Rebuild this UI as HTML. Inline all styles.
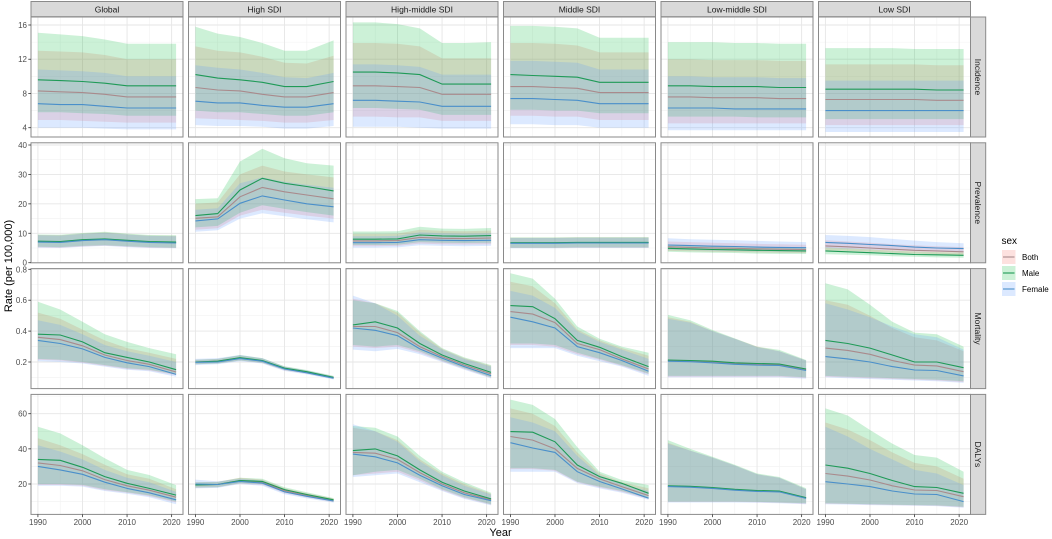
<!DOCTYPE html>
<html><head><meta charset="utf-8"><style>
html,body{margin:0;padding:0;background:#fff;}
svg{display:block;font-family:"Liberation Sans",Arial,sans-serif;}
</style></head><body>
<svg id="chart" width="1052" height="539" viewBox="0 0 1052 539"></svg>
<script>
const years = [1990,1995,2000,2005,2010,2015,2021];
const regions = ["Global","High SDI","High-middle SDI","Middle SDI","Low-middle SDI","Low SDI"];
const measures = ["Incidence","Prevalence","Mortality","DALYs"];
const xTicks = [1990,2000,2010,2020];
const yTicksInc = [4,8,12,16];
const yTicksPrev = [0,10,20,30,40];
const yTicksMort = [0.2,0.4,0.6,0.8];
const yTicksDaly = [20,40,60];
const yTickLabelsMort = ["0.2","0.4","0.6","0.8"];

const incMale = [[9.6,9.5,9.4,9.2,8.9,8.9,8.9],[10.2,9.8,9.6,9.3,8.8,8.8,9.4],[10.5,10.5,10.4,10.2,9.1,9.1,9.1],[10.2,10.1,10.0,9.9,9.3,9.3,9.3],[8.9,8.9,8.8,8.8,8.8,8.7,8.7],[8.5,8.5,8.5,8.5,8.5,8.4,8.4]];
const incMaleHi = [[15.1,14.9,14.7,14.3,13.8,13.8,13.8],[15.8,15.0,14.6,13.9,13.0,13.0,14.2],[16.3,16.3,16.1,15.6,13.9,13.9,14.0],[15.9,15.9,15.8,15.6,14.5,14.5,14.5],[14.0,14.0,14.0,13.9,13.9,13.8,13.8],[13.3,13.3,13.3,13.3,13.2,13.2,13.2]];
const incMaleLo = [[5.8,5.8,5.7,5.6,5.4,5.4,5.4],[6.0,5.8,5.8,5.6,5.4,5.4,5.8],[6.3,6.3,6.2,6.1,5.5,5.5,5.5],[6.1,6.1,6.0,6.0,5.7,5.7,5.7],[5.3,5.3,5.3,5.3,5.2,5.2,5.2],[5.0,5.0,5.0,5.0,5.0,5.0,5.0]];
const incBoth = [[8.3,8.2,8.1,7.9,7.6,7.6,7.6],[8.7,8.4,8.3,7.9,7.6,7.6,8.1],[8.9,8.9,8.8,8.7,7.9,7.9,7.9],[8.8,8.8,8.7,8.6,8.1,8.1,8.1],[7.6,7.6,7.5,7.5,7.5,7.4,7.4],[7.3,7.3,7.3,7.3,7.3,7.2,7.2]];
const incBothHi = [[13.0,12.9,12.8,12.5,12.0,12.0,12.0],[13.5,13.0,12.8,12.3,11.6,11.5,12.4],[13.9,13.9,13.8,13.5,12.1,12.1,12.1],[13.9,13.9,13.8,13.6,12.8,12.8,12.8],[12.0,12.0,11.9,11.9,11.9,11.8,11.8],[11.4,11.4,11.4,11.4,11.4,11.3,11.3]];
const incBothLo = [[4.9,4.9,4.8,4.7,4.6,4.6,4.6],[5.1,5.0,4.9,4.8,4.6,4.6,4.9],[5.3,5.3,5.2,5.2,4.8,4.8,4.8],[5.4,5.4,5.3,5.3,4.9,4.9,4.9],[4.5,4.5,4.5,4.5,4.5,4.5,4.5],[4.3,4.3,4.3,4.3,4.3,4.3,4.3]];
const incFemale = [[6.8,6.7,6.7,6.5,6.3,6.3,6.3],[7.1,6.9,6.9,6.6,6.4,6.4,6.8],[7.2,7.2,7.1,7.0,6.5,6.5,6.5],[7.4,7.4,7.3,7.2,6.8,6.8,6.8],[6.3,6.3,6.3,6.2,6.2,6.2,6.2],[6.0,6.0,6.0,6.0,6.0,6.0,6.0]];
const incFemaleHi = [[10.8,10.7,10.6,10.4,10.0,10.0,10.0],[11.3,11.0,10.8,10.4,9.9,9.8,10.4],[11.4,11.4,11.3,11.1,10.2,10.2,10.2],[11.8,11.8,11.7,11.6,10.8,10.8,10.8],[10.0,10.0,9.9,9.9,9.9,9.8,9.8],[9.5,9.5,9.5,9.5,9.5,9.5,9.5]];
const incFemaleLo = [[4.0,4.0,4.0,3.9,3.8,3.8,3.8],[4.3,4.2,4.2,4.1,3.9,3.9,4.2],[4.1,4.1,4.1,4.0,3.9,3.9,3.9],[4.4,4.4,4.3,4.3,4.0,4.0,4.0],[3.7,3.7,3.7,3.7,3.7,3.7,3.7],[3.5,3.5,3.5,3.5,3.5,3.5,3.5]];

const prevMale = [[7.3,7.2,7.8,8.1,7.6,7.2,7.0],[16.0,16.7,24.7,28.7,27.0,25.9,24.4],[8.0,8.0,8.1,9.4,9.1,9.0,9.2],[6.8,6.8,6.8,6.9,6.9,6.9,6.9],[4.9,4.7,4.5,4.4,4.2,4.1,4.0],[4.0,3.7,3.4,3.1,2.8,2.7,2.5]];
const prevMaleHi = [[9.6,9.5,10.1,10.5,9.9,9.4,9.3],[21.6,21.9,34.4,38.7,35.5,33.8,33.0],[10.6,10.6,10.7,12.2,11.6,11.5,11.8],[8.6,8.6,8.6,8.7,8.7,8.7,8.7],[6.2,6.0,5.8,5.6,5.4,5.3,5.2],[5.2,4.9,4.5,4.1,3.8,3.6,3.4]];
const prevMaleLo = [[5.4,5.3,5.7,5.9,5.6,5.3,5.1],[12.0,12.5,17.0,19.5,18.3,17.2,16.0],[6.0,6.0,6.1,7.0,6.8,6.7,6.8],[5.1,5.1,5.1,5.2,5.2,5.2,5.2],[3.7,3.5,3.4,3.3,3.1,3.0,3.0],[2.9,2.7,2.5,2.2,2.0,1.8,1.7]];
const prevBoth = [[7.1,7.0,7.6,7.9,7.4,7.0,6.8],[15.1,15.6,22.4,25.6,24.1,23.0,21.7],[7.4,7.4,7.5,8.6,8.3,8.2,8.4],[6.7,6.7,6.7,6.8,6.8,6.8,6.8],[5.4,5.2,5.0,4.9,4.7,4.6,4.5],[5.7,5.4,5.0,4.6,4.2,4.0,3.7]];
const prevBothHi = [[9.4,9.3,9.9,10.3,9.7,9.2,9.1],[20.0,20.5,30.0,33.0,31.0,30.0,29.0],[9.8,9.8,9.9,11.2,10.8,10.7,10.9],[8.5,8.5,8.5,8.6,8.6,8.6,8.6],[7.2,7.0,6.8,6.6,6.4,6.3,6.1],[7.6,7.2,6.8,6.3,5.9,5.6,5.3]];
const prevBothLo = [[5.2,5.1,5.5,5.8,5.4,5.1,5.0],[11.2,11.7,16.0,18.0,17.0,16.0,15.0],[5.6,5.6,5.7,6.5,6.3,6.2,6.3],[5.0,5.0,5.0,5.1,5.1,5.1,5.1],[4.0,3.9,3.7,3.6,3.5,3.4,3.3],[4.2,4.0,3.7,3.4,3.1,2.9,2.7]];
const prevFemale = [[7.0,6.9,7.5,7.8,7.3,6.9,6.7],[14.2,14.9,20.2,22.7,21.3,20.0,19.0],[6.8,6.8,6.9,7.8,7.6,7.5,7.6],[6.6,6.6,6.6,6.7,6.7,6.7,6.7],[6.0,5.8,5.6,5.5,5.3,5.2,5.1],[6.9,6.6,6.2,5.8,5.3,5.0,4.8]];
const prevFemaleHi = [[9.3,9.2,9.8,10.2,9.6,9.1,9.0],[18.0,18.5,27.0,29.0,27.5,26.5,25.5],[9.0,9.0,9.1,10.3,10.0,9.9,10.0],[8.4,8.4,8.4,8.5,8.5,8.5,8.5],[8.3,8.0,7.8,7.6,7.4,7.2,7.0],[9.4,9.1,8.7,8.1,7.5,7.0,6.6]];
const prevFemaleLo = [[5.1,5.0,5.4,5.7,5.3,5.0,4.9],[10.5,11.0,15.0,16.8,15.8,14.8,13.7],[5.1,5.1,5.2,5.9,5.7,5.6,5.7],[4.9,4.9,4.9,5.0,5.0,5.0,5.0],[4.4,4.3,4.1,4.0,3.9,3.8,3.7],[5.0,4.8,4.5,4.2,3.9,3.7,3.5]];

const mortMale = [[.38,.375,.33,.26,.23,.20,.15],[.20,.205,.228,.21,.16,.137,.10],[.44,.46,.42,.32,.245,.19,.133],[.565,.558,.48,.34,.295,.235,.17],[.213,.21,.205,.195,.19,.187,.155],[.34,.32,.29,.245,.20,.20,.163]];
const mortMaleHi = [[.59,.54,.46,.38,.33,.29,.25],[.215,.22,.245,.225,.172,.148,.11],[.60,.58,.53,.40,.29,.23,.18],[.775,.74,.61,.43,.35,.30,.26],[.505,.47,.407,.353,.30,.278,.213],[.71,.67,.57,.46,.39,.38,.30]];
const mortMaleLo = [[.22,.215,.20,.18,.16,.15,.12],[.185,.19,.21,.195,.148,.127,.092],[.31,.30,.31,.27,.21,.16,.10],[.32,.32,.31,.26,.22,.18,.125],[.11,.11,.11,.11,.11,.11,.10],[.11,.105,.10,.095,.09,.085,.075]];
const mortBoth = [[.36,.345,.305,.245,.21,.185,.135],[.20,.205,.226,.208,.158,.134,.098],[.43,.43,.39,.30,.235,.18,.123],[.526,.51,.455,.32,.28,.22,.155],[.21,.207,.2,.19,.185,.183,.15],[.29,.275,.25,.21,.18,.175,.137]];
const mortBothHi = [[.52,.48,.41,.34,.29,.26,.22],[.215,.22,.243,.223,.17,.145,.108],[.61,.58,.52,.39,.285,.225,.175],[.72,.69,.58,.41,.34,.29,.24],[.49,.46,.40,.35,.30,.27,.21],[.60,.57,.50,.42,.36,.34,.27]];
const mortBothLo = [[.215,.21,.195,.175,.155,.145,.115],[.185,.19,.21,.193,.145,.124,.09],[.30,.29,.30,.26,.205,.155,.097],[.31,.31,.30,.25,.215,.175,.12],[.105,.105,.105,.105,.105,.105,.097],[.105,.1,.095,.09,.085,.08,.07]];
const mortFemale = [[.34,.32,.285,.23,.195,.17,.12],[.198,.2,.222,.205,.155,.13,.095],[.42,.405,.37,.285,.225,.17,.112],[.49,.46,.42,.30,.26,.21,.14],[.205,.202,.195,.185,.18,.178,.145],[.235,.22,.20,.17,.148,.145,.11]];
const mortFemaleHi = [[.47,.44,.38,.31,.27,.24,.20],[.22,.225,.245,.225,.17,.145,.108],[.63,.58,.50,.37,.28,.22,.17],[.66,.63,.55,.40,.33,.28,.22],[.48,.455,.40,.35,.295,.27,.21],[.58,.54,.49,.43,.38,.36,.28]];
const mortFemaleLo = [[.205,.2,.19,.17,.15,.14,.105],[.18,.185,.205,.19,.142,.12,.087],[.28,.27,.285,.25,.2,.15,.093],[.29,.29,.29,.24,.205,.17,.11],[.10,.10,.10,.10,.10,.10,.092],[.10,.095,.09,.085,.08,.075,.065]];

const dalyMale = [[34,33.5,29.5,24.2,20.4,17.5,13.7],[19.5,19.7,22,21.5,16.8,14,11],[39,40,36,28,21,16,11.5],[49.8,49.5,44,30.8,24.2,20.4,14.7],[19,18.7,18,17,16.3,16,12.2],[30.8,29,26,22,18.5,18,14.7]];
const dalyMaleHi = [[52.6,48.8,42,34.6,28,25.1,19.4],[21,21.2,23.5,23,18.2,15.3,12],[53,52,47,36,27,21,15],[68,65,57,41,27,22.3,19.4],[45,40,35.5,31,26,24,17.6],[63,59,50.7,43,36.5,35,27]];
const dalyMaleLo = [[20,20,19.5,17,15.3,13.5,10],[18,18.2,20.5,20,15.4,12.7,10],[25,27,28,23,17,12.5,8.5],[29,29,28,21.3,18.5,16,11.9],[10,10,10,10,9.8,9.5,9],[9,8.8,8.5,8.2,8,7.8,7]];
const dalyBoth = [[32,30.5,27.5,22.5,19,16.5,12.5],[19.5,19.8,22,21,16.2,13.5,10.8],[38,37.5,34,26.5,20,15,11],[47,45,40,28.9,22.9,18.5,13.4],[18.8,18.5,17.8,16.8,16,15.8,12],[26,24.5,22.3,19,16.6,16.3,12.8]];
const dalyBothHi = [[46,42,37,31,25.5,23,17],[21,21.3,23.5,22.5,17.6,14.8,11.8],[52,50,45,34,26,20,14.5],[63,60,53,38,26,21,17.5],[43.5,39,35,30.5,25.5,23.5,17],[55,51,45,38,32,30,23]];
const dalyBothLo = [[19.5,19.5,19,16.5,15,13,9.5],[17.8,18.2,20.3,19.5,14.8,12.3,9.7],[25,26,27,22,16.5,12,8.2],[28.5,28.5,27.5,21,18,15.5,11.5],[9.8,9.8,9.8,9.8,9.6,9.3,8.8],[8.8,8.6,8.3,8,7.8,7.6,6.8]];
const dalyFemale = [[30,28,25.5,21,17.5,15,11],[20,19.7,21.5,20.5,15.5,13,10.3],[37,35.5,32,25,19,14,10.5],[43.5,40.5,38,27,21.4,17.2,11.9],[18.5,18.2,17.5,16.5,15.8,15.5,11.8],[21.3,20,18.5,16,14.3,14,10]];
const dalyFemaleHi = [[42,38.5,34,28,23.5,21,15.5],[22.5,21.5,23,22,16.8,14.2,11.2],[54,50,44,33,25,19,14],[58,55,50,36,25,20,16],[43,39,35,30.5,25.5,23.5,17],[52.6,47,40,34,28,26,19.4]];
const dalyFemaleLo = [[19,19,18.5,16,14.5,12.5,8.5],[17.5,17.8,20,19,14.2,11.8,9.4],[24,25,26,21,16,11.5,7.8],[27,27,27,20.5,17.5,15,11],[9.5,9.5,9.5,9.5,9.3,9,8.5],[8.5,8.3,8,7.8,7.6,7.4,6.5]];

const NS = "http://www.w3.org/2000/svg";
const svg = document.getElementById("chart");
function mk(tag, attrs, parent) {
  const e = document.createElementNS(NS, tag);
  for (const k in attrs) e.setAttribute(k, attrs[k]);
  (parent || svg).appendChild(e);
  return e;
}
const colLeft = [31, 188.5, 346, 503.5, 661, 818.5];
const panelW = 152;
const rowTop = [17, 142.8, 268.6, 394.4];
const panelH = 120;
function xScale(col, yr) { return colLeft[col] + (yr - 1988.45) / 34.1 * panelW; }
const yRef = [
  {v0: 4, p0: 127.7, v1: 16, p1: 25},
  {v0: 0, p0: 262.7, v1: 40, p1: 145},
  {v0: 0.2, p0: 362, v1: 0.8, p1: 269.3},
  {v0: 20, p0: 484, v1: 60, p1: 413.7}
];
function yScale(row, v) { const r = yRef[row]; return r.p0 + (v - r.v0) * (r.p1 - r.p0) / (r.v1 - r.v0); }

const series = [
  [[incBoth,incBothLo,incBothHi],[incMale,incMaleLo,incMaleHi],[incFemale,incFemaleLo,incFemaleHi]],
  [[prevBoth,prevBothLo,prevBothHi],[prevMale,prevMaleLo,prevMaleHi],[prevFemale,prevFemaleLo,prevFemaleHi]],
  [[mortBoth,mortBothLo,mortBothHi],[mortMale,mortMaleLo,mortMaleHi],[mortFemale,mortFemaleLo,mortFemaleHi]],
  [[dalyBoth,dalyBothLo,dalyBothHi],[dalyMale,dalyMaleLo,dalyMaleHi],[dalyFemale,dalyFemaleLo,dalyFemaleHi]]
];
const sexNames = ["both","male","female"];
const fills = ["rgba(248,118,109,0.22)","rgba(0,186,56,0.2)","rgba(97,156,255,0.22)"];
const lines = ["#a98a8c","#1f9a57","#4a8fca"];
const yTickSets = [yTicksInc, yTicksPrev, yTicksMort, yTicksDaly];

for (let r = 0; r < 4; r++) {
  for (let c = 0; c < 6; c++) {
    const x0 = colLeft[c], y0 = rowTop[r];
    const g = mk("g", {});
    
    
    mk("rect", {x: x0, y: y0, width: panelW, height: panelH, fill: "#fff"}, g);
    const cid = "clip" + r + "_" + c;
    const cp = mk("clipPath", {id: cid}, g);
    mk("rect", {x: x0, y: y0, width: panelW, height: panelH}, cp);
    for (let yr = 1985; yr <= 2025; yr += 10) {
      const x = xScale(c, yr);
      if (x > x0 && x < x0 + panelW) mk("line", {x1: x, x2: x, y1: y0, y2: y0 + panelH, stroke: "#f2f2f2", "stroke-width": 0.6}, g);
    }
    const ts = yTickSets[r];
    const step = ts[1] - ts[0];
    for (let k = -1; k < ts.length; k++) {
      const v = ts[0] + (k + 0.5) * step;
      const y = yScale(r, v);
      if (y > y0 && y < y0 + panelH) mk("line", {x1: x0, x2: x0 + panelW, y1: y, y2: y, stroke: "#f2f2f2", "stroke-width": 0.6}, g);
    }
    for (const yr of xTicks) {
      const x = xScale(c, yr);
      mk("line", {x1: x, x2: x, y1: y0, y2: y0 + panelH, stroke: "#e6e6e6", "stroke-width": 0.9}, g);
    }
    for (const v of ts) {
      const y = yScale(r, v);
      if (y >= y0 && y <= y0 + panelH) mk("line", {x1: x0, x2: x0 + panelW, y1: y, y2: y, stroke: "#e6e6e6", "stroke-width": 0.9}, g);
    }
    const dg = mk("g", {"clip-path": "url(#" + cid + ")"}, g);
    for (let s = 0; s < 3; s++) {
      const lo = series[r][s][1][c], hi = series[r][s][2][c];
      let d = "";
      years.forEach((yr, i) => { d += (i ? "L" : "M") + xScale(c, yr).toFixed(1) + "," + yScale(r, hi[i]).toFixed(1); });
      for (let i = years.length - 1; i >= 0; i--) d += "L" + xScale(c, years[i]).toFixed(1) + "," + yScale(r, lo[i]).toFixed(1);
      const p = mk("path", {d: d + "Z", fill: fills[s], stroke: "none"}, dg);
      
      
    }
    for (let s = 0; s < 3; s++) {
      const m = series[r][s][0][c];
      const pts = years.map((yr, i) => xScale(c, yr).toFixed(1) + "," + yScale(r, m[i]).toFixed(1)).join(" ");
      const l = mk("polyline", {points: pts, fill: "none", stroke: lines[s], "stroke-width": 1.1}, dg);
      
      
    }
    mk("rect", {x: x0, y: y0, width: panelW, height: panelH, fill: "none", stroke: "#8a8a8a", "stroke-width": 1}, g);
    if (c === 0) {
      ts.forEach((v, i) => {
        const y = yScale(r, v);
        mk("line", {x1: 28.3, x2: 31, y1: y, y2: y, stroke: "#333", "stroke-width": 0.8});
        const t = mk("text", {x: 27, y: y + 3, "text-anchor": "end", "font-size": 8, fill: "#4d4d4d"});
        t.textContent = r === 2 ? yTickLabelsMort[i] : String(v);
        
        
      });
    }
    if (r === 3) {
      for (const yr of xTicks) {
        const x = xScale(c, yr);
        mk("line", {x1: x, x2: x, y1: y0 + panelH, y2: y0 + panelH + 2.7, stroke: "#333", "stroke-width": 0.8});
        const t = mk("text", {x: x, y: 525, "text-anchor": "middle", "font-size": 8, fill: "#4d4d4d"});
        t.textContent = String(yr);
        
        
      }
    }
  }
}
regions.forEach((name, c) => {
  const g = mk("g", {});
  
  
  mk("rect", {x: colLeft[c], y: 1.5, width: panelW, height: 15.2, fill: "#d9d9d9", stroke: "#8a8a8a", "stroke-width": 1}, g);
  const t = mk("text", {x: colLeft[c] + panelW / 2, y: 12.3, "text-anchor": "middle", "font-size": 8.5, fill: "#1a1a1a"}, g);
  t.textContent = name;
});
measures.forEach((name, r) => {
  const g = mk("g", {});
  
  
  mk("rect", {x: 970.5, y: rowTop[r], width: 15.2, height: panelH, fill: "#d9d9d9", stroke: "#8a8a8a", "stroke-width": 1}, g);
  const cx = 978.1, cy = rowTop[r] + panelH / 2;
  const t = mk("text", {x: cx, y: cy, "text-anchor": "middle", "font-size": 8.5, fill: "#1a1a1a", transform: "rotate(90 " + cx + " " + cy + ") translate(0 3)"}, g);
  t.textContent = name;
});
const xt = mk("text", {x: 500.5, y: 536, "text-anchor": "middle", "font-size": 11, fill: "#000"});
xt.textContent = "Year";


const yt = mk("text", {x: 0, y: 0, "text-anchor": "middle", "font-size": 11, fill: "#000", transform: "translate(12 266) rotate(-90)"});
yt.textContent = "Rate (per 100,000)";


const lg = mk("g", {});


const lt = mk("text", {x: 1001.5, y: 244, "font-size": 10, fill: "#000"}, lg);
lt.textContent = "sex";
const legLabels = ["Both","Male","Female"];
legLabels.forEach((lab, s) => {
  const ky = 250 + s * 16;
  const e = mk("g", {}, lg);
  
  
  mk("rect", {x: 1002, y: ky, width: 13.5, height: 14, fill: fills[s]}, e);
  mk("line", {x1: 1003, x2: 1014.5, y1: ky + 7, y2: ky + 7, stroke: lines[s], "stroke-width": 1.1}, e);
  const t = mk("text", {x: 1022, y: ky + 10, "font-size": 8, fill: "#000"}, e);
  t.textContent = lab;
});
</script>
</body></html>
